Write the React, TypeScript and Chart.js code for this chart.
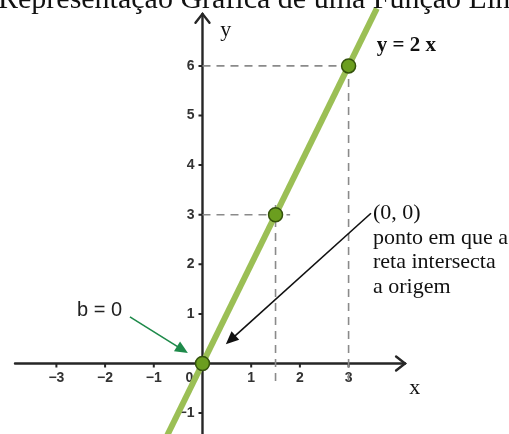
import React, { useEffect, useRef } from "react";
import { Chart, registerables } from "chart.js";

Chart.register(...registerables);

// Tick values on each axis
const xTickValues = [-3, -2, -1, 1, 2, 3];
const yTickValues = [-1, 1, 2, 3, 4, 5, 6];

// The graph of y = 2x (segment ends) and the marked points on it
const lineXs = [-0.76, 3.58];
const lineYs = [-1.52, 7.16];
const pointXs = [0, 1.5, 3];
const pointYs = [0, 3, 6];

// Dashed guides from the marked points to the axes
const guideV1 = { xs: [1.5, 1.5], ys: [-0.35, 3.3] };
const guideH1 = { xs: [0, 1.8], ys: [3, 3] };
const guideV2 = { xs: [3, 3], ys: [-0.35, 6] };
const guideH2 = { xs: [0, 3], ys: [6, 6] };

const TITLE = "Representação Gráfica de uma Função Linear";
const NOTE_LINES = ["(0, 0)", "ponto em que a", "reta intersecta", "a origem"];

const toPts = (xs: number[], ys: number[]) => xs.map((v, i) => ({ x: v, y: ys[i] }));

function arrow(ctx: CanvasRenderingContext2D, x1: number, y1: number, x2: number, y2: number, color: string, head: number) {
  const a = Math.atan2(y2 - y1, x2 - x1);
  ctx.save();
  ctx.strokeStyle = color;
  ctx.fillStyle = color;
  ctx.lineWidth = 1.6;
  ctx.beginPath();
  ctx.moveTo(x1, y1);
  ctx.lineTo(x2 - Math.cos(a) * head * 0.7, y2 - Math.sin(a) * head * 0.7);
  ctx.stroke();
  ctx.beginPath();
  ctx.moveTo(x2, y2);
  ctx.lineTo(x2 - head * Math.cos(a - 0.42), y2 - head * Math.sin(a - 0.42));
  ctx.lineTo(x2 - head * Math.cos(a + 0.42), y2 - head * Math.sin(a + 0.42));
  ctx.closePath();
  ctx.fill();
  ctx.restore();
}

const axesPlugin = {
  id: "crossAxes",
  beforeDatasetsDraw(chart: any) {
    const { ctx, scales } = chart;
    const sx = scales.x, sy = scales.y;
    const ox = sx.getPixelForValue(0);
    const oy = sy.getPixelForValue(0);
    const xl = sx.getPixelForValue(-3.85);
    const xr = sx.getPixelForValue(4.16);
    const yt = sy.getPixelForValue(7.05);
    const yb = sy.getPixelForValue(-1.5);
    ctx.save();
    ctx.strokeStyle = "#262626";
    ctx.lineWidth = 2.4;
    ctx.lineCap = "round";
    ctx.beginPath();
    ctx.moveTo(xl, oy);
    ctx.lineTo(xr, oy);
    ctx.moveTo(ox, yb);
    ctx.lineTo(ox, yt);
    ctx.stroke();
    // arrow heads
    ctx.beginPath();
    ctx.moveTo(xr - 9, oy - 7);
    ctx.lineTo(xr, oy);
    ctx.lineTo(xr - 9, oy + 7);
    ctx.moveTo(ox - 7, yt + 9);
    ctx.lineTo(ox, yt);
    ctx.lineTo(ox + 7, yt + 9);
    ctx.stroke();
    // ticks
    ctx.lineWidth = 2;
    ctx.lineCap = "butt";
    ctx.beginPath();
    xTickValues.forEach((v) => {
      const px = sx.getPixelForValue(v);
      ctx.moveTo(px, oy);
      ctx.lineTo(px, oy + 4);
    });
    yTickValues.forEach((v) => {
      const py = sy.getPixelForValue(v);
      ctx.moveTo(ox, py);
      ctx.lineTo(ox - 4, py);
    });
    ctx.stroke();
    // tick labels
    ctx.fillStyle = "#333";
    ctx.font = "bold 14px 'Liberation Sans', Arial, sans-serif";
    ctx.textBaseline = "middle";
    ctx.textAlign = "center";
    xTickValues.forEach((v) => {
      const px = sx.getPixelForValue(v);
      ctx.fillText(v < 0 ? "−" + Math.abs(v) : String(v), px, oy + 15);
    });
    ctx.fillText("0", ox - 13, oy + 15);
    ctx.textAlign = "right";
    yTickValues.forEach((v) => {
      const py = sy.getPixelForValue(v);
      ctx.fillText(v < 0 ? "−" + Math.abs(v) : String(v), ox - 8, py);
    });
    ctx.restore();
  },
  afterDatasetsDraw(chart: any) {
    const { ctx, scales } = chart;
    const sx = scales.x, sy = scales.y;
    const P = (x: number, y: number) => [sx.getPixelForValue(x), sy.getPixelForValue(y)];
    ctx.save();
    // title
    ctx.fillStyle = "#111";
    ctx.font = "30px 'Liberation Serif', 'Times New Roman', serif";
    ctx.textAlign = "left";
    ctx.textBaseline = "alphabetic";
    ctx.fillText(TITLE, -2, 8);
    // axis names
    ctx.font = "22px 'Liberation Serif', serif";
    ctx.textAlign = "center";
    ctx.textBaseline = "middle";
    let [ax, ay] = P(4.36, -0.49);
    ctx.fillText("x", ax, ay);
    [ax, ay] = P(0.48, 6.72);
    ctx.fillText("y", ax, ay);
    // equation
    ctx.font = "bold 21px 'Liberation Serif', serif";
    ctx.textAlign = "left";
    [ax, ay] = P(3.58, 6.42);
    ctx.fillText("y = 2 x", ax, ay);
    // note about the origin
    ctx.font = "22px 'Liberation Serif', serif";
    [ax, ay] = P(3.5, 3.03);
    NOTE_LINES.forEach((t, i) => ctx.fillText(t, ax, ay + i * 24.5));
    // intercept label
    ctx.font = "20px 'Liberation Sans', Arial, sans-serif";
    ctx.fillStyle = "#222";
    ctx.textAlign = "right";
    [ax, ay] = P(-1.65, 1.06);
    ctx.fillText("b = 0", ax, ay);
    ctx.restore();
    // pointer arrows
    const [b1x, b1y] = P(3.46, 3.03);
    const [b2x, b2y] = P(0.48, 0.39);
    arrow(ctx, b1x, b1y, b2x, b2y, "#111", 14);
    const [g1x, g1y] = P(-1.49, 0.94);
    const [g2x, g2y] = P(-0.3, 0.21);
    arrow(ctx, g1x, g1y, g2x, g2y, "#1E8A4A", 14);
  },
};

export default function App() {
  const ref = useRef<HTMLCanvasElement | null>(null);
  useEffect(() => {
    if (!ref.current) return;
    const guideStyle = {
      type: "line" as const,
      borderColor: "#8a8a8a",
      borderWidth: 1.6,
      borderDash: [8, 6],
      pointRadius: 0,
      fill: false,
      order: 3,
    };
    const chart = new Chart(ref.current, {
      type: "scatter",
      data: {
        datasets: [
          {
            type: "scatter",
            data: toPts(pointXs, pointYs),
            pointRadius: 7,
            pointBackgroundColor: "#6B9E1F",
            pointBorderColor: "#34520C",
            pointBorderWidth: 1.5,
            order: 0,
          },
          {
            type: "line",
            data: toPts(lineXs, lineYs),
            borderColor: "#9BBF55",
            borderWidth: 6,
            pointRadius: 0,
            fill: false,
            order: 1,
          },
          { ...guideStyle, data: toPts(guideV1.xs, guideV1.ys) },
          { ...guideStyle, data: toPts(guideH1.xs, guideH1.ys) },
          { ...guideStyle, data: toPts(guideV2.xs, guideV2.ys) },
          { ...guideStyle, data: toPts(guideH2.xs, guideH2.ys) },
        ] as any,
      },
      options: {
        animation: false,
        responsive: false,
        devicePixelRatio: 1,
        layout: { padding: 0, autoPadding: false },
        plugins: { legend: { display: false }, tooltip: { enabled: false }, title: { display: false } },
        scales: {
          x: { type: "linear", min: -4.158, max: 6.294, display: false },
          y: { type: "linear", min: -1.421, max: 7.329, display: false },
        },
      },
      plugins: [axesPlugin],
    });
    return () => chart.destroy();
  }, []);
  return (
    <div style={{ position: "fixed", left: 0, top: 0, width: 509, height: 434, background: "#fff" }}>
      <canvas ref={ref} width={509} height={434} style={{ display: "block" }} />
    </div>
  );
}
